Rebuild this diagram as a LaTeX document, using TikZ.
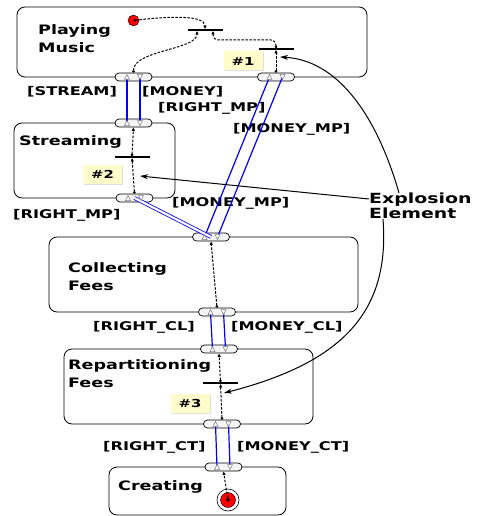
\documentclass[tikz,border=0pt]{standalone}
\usepackage{fontspec}
\setmainfont{DejaVu Sans Bold}[FakeStretch=1.35]
\usetikzlibrary{arrows.meta,shadows}
\tikzset{
  box/.style={draw, rounded corners=8pt, line width=0.8pt},
  port/.style={draw, rounded corners=4pt, minimum width=37pt, minimum height=8pt, inner sep=0pt, fill=gray!8, line width=0.7pt},
  tri/.style={draw=gray, fill=white, line width=0.5pt},
  link/.style={draw=blue, line width=1.2pt},
  mlink/.style={draw=blue, double=white, double distance=2.2pt, line width=0.8pt},
  flow/.style={dash pattern=on 2.5pt off 1.5pt, line width=1pt, {Circle[length=2.5pt]}-{Latex[length=3.5pt,width=3.5pt]}},
  bar/.style={fill=black, minimum width=35pt, minimum height=1.4pt, inner sep=0pt},
  note/.style={fill=yellow!20, minimum width=39pt, minimum height=19pt, inner sep=0pt,
    font=\fontsize{11}{13}\selectfont, drop shadow={shadow xshift=1pt, shadow yshift=-1pt, opacity=0.25}},
  title/.style={anchor=west, inner sep=0pt, align=left, font=\fontsize{13}{18}\selectfont},
  lbl/.style={anchor=west, inner sep=0pt, font=\fontsize{12}{14}\selectfont},
  expl/.style={line width=1pt, -{Stealth[length=8pt,width=5pt]}},
}
\begin{document}
\begin{tikzpicture}[x=1pt, y=-1pt]
    \useasboundingbox (0,0) rectangle (477,516);
    % 状态框
    \draw[box] (17,7) rectangle (367,77);
    \draw[box] (14,123) rectangle (175,198);
    \draw[box] (49,237) rectangle (358,312);
    \draw[box] (64,349) rectangle (313,424);
    \draw[box] (109,467) rectangle (286,515);

    \node[title] (tpm) at (38,38.5) {Playing\\Music};
    \node[title] (tst) at (19,142) {Streaming};
    \node[title] (tcf) at (68,277) {Collecting\\Fees};
    \node[title] (trf) at (68,374) {Repartitioning\\Fees};
    \node[title] (tcr) at (118,487) {Creating};

    % 端口
    \foreach \n/\x/\y in {pa/133.5/77, pb/276/77, sa/133.5/123, sb/134.5/198, ca/211/237,
                          cb/217/312, ra/219/349, rb/222/424, ka/223.5/467} {
        \node[port] (\n) at (\x,\y) {};
        \coordinate (\n-u) at ([xshift=-6.5pt]\n.center);
        \coordinate (\n-d) at ([xshift=6.5pt]\n.center);
    }

    % 标签
    \node[lbl] (lst) at (27,92) {[STREAM]};
    \node[lbl] (lmo) at (142,92) {[MONEY]};
    \node[lbl] (lrm1) at (158,108) {[RIGHT\_MP]};
    \node[lbl] (lmm1) at (233,129) {[MONEY\_MP]};
    \node[lbl] (lmm2) at (172,203) {[MONEY\_MP]};
    \node[lbl] (lrm2) at (13,215) {[RIGHT\_MP]};
    \node[lbl] (lrcl) at (93,327) {[RIGHT\_CL]};
    \node[lbl] (lmcl) at (231,327) {[MONEY\_CL]};
    \node[lbl] (lrct) at (103,447) {[RIGHT\_CT]};
    \node[lbl] (lmct) at (237,447) {[MONEY\_CT]};

    % 连线
    \draw[link] (pa-u) -- (sa-u);
    \draw[link] (pa-d) -- (sa-d);
    \draw[link] (pb-u) -- (ca-u);
    \draw[link] (pb-d) -- (ca-d);
    \draw[mlink] (sb.center) -- (ca.center);
    \draw[link] (cb-u) -- (ra-u);
    \draw[link] (cb-d) -- (ra-d);
    \draw[link] (rb-u) -- (ka-u);
    \draw[link] (rb-d) -- (ka-d);

    \foreach \n in {pa,pb,sa,sb,ca,cb,ra,rb,ka} {
        \draw[tri] ([shift={(-9,2.5)}]\n.center) -- ++(5,0) -- ++(-2.5,-5) -- cycle;
        \draw[tri] ([shift={(4,-2.5)}]\n.center) -- ++(5,0) -- ++(-2.5,5) -- cycle;
    }

    % 内部元素
    \node[circle, draw, fill=red, minimum size=11pt, inner sep=0pt] (ini) at (133.5,20.5) {};
    \node[bar] (t0) at (205,30) {};
    \node[bar] (t1) at (276,49) {};
    \node[bar] (t2) at (132,157) {};
    \node[bar] (t3) at (220.5,383) {};
    \node[circle, draw, line width=0.6pt, minimum size=22pt, inner sep=0pt] (fin) at (228,500) {};
    \node[circle, draw, fill=red, minimum size=15pt, inner sep=0pt] (fin-in) at (fin) {};
    \fill (fin) circle (1.8);

    \draw[flow] (ini.center) .. controls (170,16) and (205,15) .. (t0.north);
    \draw[flow] (pa.north) .. controls (133,50) and (197,50) .. ([xshift=-8pt]t0.south);
    \draw[flow, rounded corners=5pt] (t1.north) |- (213,40) -- ([xshift=8pt]t0.south);
    \draw[flow] (pb.north) -- (t1.south);
    \draw[flow] (sb.north) -- (t2.south);
    \draw[flow] (t2.north) -- (sa.south);
    \draw[flow] (cb.north) -- (ca.south);
    \draw[flow] (rb.north) -- (t3.south);
    \draw[flow] (t3.north) -- (ra.south);
    \draw[flow] (fin-in.center) -- (ka.south);

    \node[note] (n1) at (243,61) {\#1};
    \node[note] (n2) at (102.5,174.5) {\#2};
    \node[note] (n3) at (190,403.5) {\#3};

    % 爆炸元素
    \node[anchor=west, inner sep=0pt, align=left, font=\fontsize{14}{15}\selectfont] (ex) at (369,206) {Explosion\\Element};
    \coordinate (a1) at (280,57);
    \coordinate (a2) at (140,176);
    \coordinate (a3) at (224,393);
    \draw[expl] ([xshift=30pt]ex.north west) .. controls (375,110) and (335,60) .. (a1);
    \draw[expl] ([yshift=7pt]ex.west) -- (a2);
    \draw[expl] ([xshift=14pt]ex.south west) .. controls (390,310) and (345,362) .. (a3);
\end{tikzpicture}
\end{document}
